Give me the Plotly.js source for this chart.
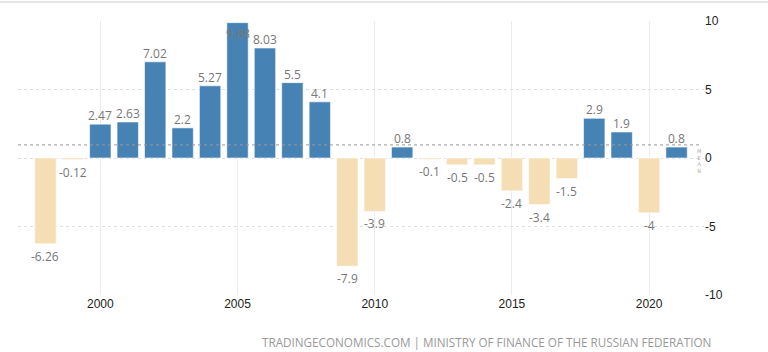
<!DOCTYPE html>
<html>
<head>
<meta charset="utf-8">
<script src="https://cdn.plot.ly/plotly-3.0.1.min.js"></script>
<style>html,body{margin:0;padding:0;background:#fff;}#chart{width:768px;height:352px;}</style>
</head>
<body>
<div id="chart"></div>
<script>
const years = [1998,1999,2000,2001,2002,2003,2004,2005,2006,2007,2008,2009,2010,2011,2012,2013,2014,2015,2016,2017,2018,2019,2020,2021];
const values = [-6.26,-0.12,2.47,2.63,7.02,2.2,5.27,9.88,8.03,5.5,4.1,-7.9,-3.9,0.8,-0.1,-0.5,-0.5,-2.4,-3.4,-1.5,2.9,1.9,-4,0.8];
const labels = ["-6.26","-0.12","2.47","2.63","7.02","2.2","5.27","9.88","8.03","5.5","4.1","-7.9","-3.9","0.8","-0.1","-0.5","-0.5","-2.4","-3.4","-1.5","2.9","1.9","-4","0.8"];
const xTicks = [2000,2005,2010,2015,2020];
const yTicks = [-10,-5,0,5,10];
const source = "TRADINGECONOMICS.COM | MINISTRY OF FINANCE OF THE RUSSIAN FEDERATION";

const POS = "#4682b4", NEG = "#f5deb3";
const mean = values.reduce((a,b)=>a+b,0)/values.length;

const trace = {
  type: "bar",
  x: years,
  y: values,
  width: 0.78,
  marker: {color: values.map(v => v >= 0 ? POS : NEG), line: {color: "rgba(255,255,255,0.6)", width: 1}},
  hoverinfo: "x+y"
};

const annotations = years.map((yr, i) => {
  const v = values[i];
  return {
    x: yr, y: v >= 0 ? Math.min(v, 8.5) : v, xref: "x", yref: "y",
    text: labels[i], showarrow: false,
    yanchor: v >= 0 ? "bottom" : "top",
    yshift: v >= 0 ? -2 : -2,
    font: {family: "Open Sans, sans-serif", size: 12, color: "#777"}
  };
});
annotations.push({
  xref: "paper", yref: "paper", x: 1.0, y: -0.17, xanchor: "right", yanchor: "middle",
  xshift: 9, text: source, showarrow: false,
  font: {family: "Open Sans, sans-serif", size: 11.7, color: "#999"}
});
annotations.push({
  xref: "paper", yref: "y", x: 1.0, y: mean, xanchor: "right", yanchor: "top",
  xshift: -1, yshift: -1, text: "M<br>E<br>A<br>N", showarrow: false,
  font: {family: "DejaVu Sans, sans-serif", size: 5, color: "#aaa"}
});

const layout = {
  width: 768, height: 352,
  margin: {l: 18, r: 64, t: 21, b: 57},
  paper_bgcolor: "#fff", plot_bgcolor: "#fff",
  showlegend: false,
  bargap: 0.2,
  xaxis: {
    range: [1997.0, 2022.0],
    tickvals: xTicks, ticktext: xTicks.map(String),
    showgrid: true, gridcolor: "#ececec", gridwidth: 1,
    zeroline: false, showline: false, ticks: "",
    tickfont: {family: "Liberation Sans, Arial, sans-serif", size: 12, color: "#222"}
  },
  yaxis: {
    range: [-10, 10], side: "right",
    tickvals: yTicks, ticktext: yTicks.map(String),
    showgrid: true, gridcolor: "#e0e0e0", griddash: "dot", gridwidth: 1,
    zeroline: false, showline: false, ticks: "",
    tickfont: {family: "Liberation Sans, Arial, sans-serif", size: 12, color: "#222"}
  },
  shapes: [
    {type: "line", xref: "paper", yref: "y", x0: 0, x1: 0.995, y0: mean, y1: mean,
     line: {color: "#999", width: 1, dash: "dot"}},
    {type: "line", xref: "paper", yref: "paper", x0: -0.03, x1: 1.1, y0: 1.069, y1: 1.069,
     line: {color: "#e6e6e6", width: 2}}
  ],
  annotations: annotations
};

Plotly.newPlot("chart", [trace], layout, {displayModeBar: false, staticPlot: true});
</script>
</body>
</html>
